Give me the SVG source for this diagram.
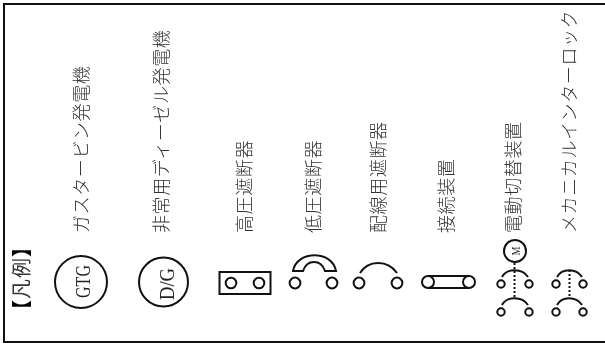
<svg xmlns="http://www.w3.org/2000/svg" width="605" height="347" viewBox="0 0 605 347">
<style>
.l{font-family:"Noto Sans CJK JP","Liberation Sans",sans-serif;font-size:18px;letter-spacing:.6px;fill:#333;font-weight:300;filter:grayscale(1)}
.s{font-family:"Liberation Serif",serif;fill:#222;filter:grayscale(1)}
.k{fill:none;stroke:#111;stroke-width:2}
.d{fill:none;stroke:#111;stroke-width:2;stroke-dasharray:2 2}
</style>
<rect width="605" height="347" fill="#fff"/>
<path d="M605 4H4V342H605" fill="none" stroke="#111" stroke-width="2"/>
<g id="title"><text transform="translate(28.500 320) rotate(-90)" font-family="Noto Sans CJK JP,sans-serif" font-size="20" letter-spacing="1" fill="#333" style="filter:grayscale(1)"><tspan font-weight="900" fill="#000">【</tspan>凡例<tspan font-weight="900" fill="#000">】</tspan></text></g>
<g id="gtg"><circle class="k" cx="81" cy="282" r="26"/><text class="s" transform="translate(90 298) rotate(-90)" font-size="22" textLength="33" lengthAdjust="spacingAndGlyphs">GTG</text><text class="l" transform="translate(88 233) rotate(-90)">ガスタービン発電機</text></g>
<g id="dg"><circle class="k" cx="163.500" cy="282" r="24.500"/><text class="s" transform="translate(173.500 300) rotate(-90)" font-size="22" textLength="32" lengthAdjust="spacingAndGlyphs">D/G</text><text class="l" transform="translate(168 233) rotate(-90)">非常用ディーゼル発電機</text></g>
<g id="hv"><rect class="k" x="219.500" y="272" width="51" height="22"/><circle class="k" cx="231" cy="283" r="5.300"/><circle class="k" cx="259" cy="283" r="5.300"/><text class="l" transform="translate(251 233) rotate(-90)">高圧遮断器</text></g>
<g id="lv"><circle class="k" cx="295" cy="283" r="5.400"/><circle class="k" cx="332" cy="283" r="5.400"/><path class="k" d="M293 271C297 250 332 250 336 271H325C321 259 307 259 303 271Z"/><text class="l" transform="translate(320 233) rotate(-90)">低圧遮断器</text></g>
<g id="mccb"><circle class="k" cx="359" cy="283" r="5.400"/><circle class="k" cx="397" cy="283" r="5.400"/><path class="k" d="M360 273C368 259.500 388 259.500 397 273"/><text class="l" transform="translate(385 233) rotate(-90)">配線用遮断器</text></g>
<g id="conn"><circle class="k" cx="428" cy="282" r="6"/><circle class="k" cx="469" cy="282" r="6"/><path class="k" d="M428 276H469M428 288H469"/><text class="l" transform="translate(453 233) rotate(-90)">接続装置</text></g>
<g id="ats"><circle class="k" cx="515" cy="251" r="11"/><text class="s" transform="translate(519.500 255.500) rotate(-90)" font-size="12" textLength="9" lengthAdjust="spacingAndGlyphs">M</text><circle class="k" cx="501" cy="284" r="3.700"/><circle class="k" cx="529" cy="284" r="3.700"/><circle class="k" cx="501" cy="312" r="3.700"/><circle class="k" cx="529" cy="312" r="3.700"/><path class="k" d="M502 277C507 268 522 268 528 277M502 305C507 296 522 296 528 305"/><text class="l" transform="translate(520 233) rotate(-90)">電動切替装置</text></g>
<g id="mi"><circle class="k" cx="556" cy="284" r="3.700"/><circle class="k" cx="583" cy="284" r="3.700"/><circle class="k" cx="556" cy="312" r="3.700"/><circle class="k" cx="583" cy="312" r="3.700"/><path class="k" d="M557 277C562 268 576 268 582 277M557 305C562 296 576 296 582 305"/><text class="l" transform="translate(576 233) rotate(-90)">メカニカルインターロック</text></g>
<g id="connectors"><path class="d" d="M514.500 263V297M569.500 270V297"/></g>
</svg>
